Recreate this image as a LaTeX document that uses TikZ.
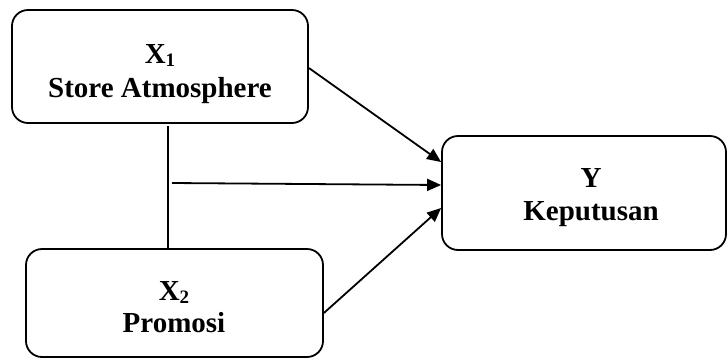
\documentclass[tikz,border=0pt]{standalone}
\usepackage{fontspec}
\setmainfont{Liberation Serif}
\usetikzlibrary{arrows.meta}
\newcommand{\mysub}[1]{\raisebox{-3pt}{\fontsize{19}{19}\selectfont #1}}
\begin{document}
\begin{tikzpicture}[x=1pt,y=-1pt,
  box/.style={draw,line width=1.8pt,rounded corners=16pt,inner sep=0pt},
  lbl/.style={anchor=base,inner sep=0pt,font=\fontsize{29}{34}\selectfont\bfseries},
  conn/.style={line width=1.8pt},
  arr/.style={conn,-{Triangle[length=14pt,width=12pt]}}]
\useasboundingbox (0,0) rectangle (728,360);
\node[box,minimum width=296pt,minimum height=113pt] (x1) at (160,66.5) {};
\node[box,minimum width=297pt,minimum height=108pt] (x2) at (174.5,303) {};
\node[box,minimum width=284pt,minimum height=114pt] (y) at (584,193) {};
\node[lbl] (x1a) at (160,63) {X\mysub{1}};
\node[lbl] (x1b) at (160,97) {Store Atmosphere};
\node[lbl] (x2a) at (174,300) {X\mysub{2}};
\node[lbl] (x2b) at (174,332) {Promosi};
\node[lbl] (ya) at (591,187) {Y};
\node[lbl] (yb) at (591,220) {Keputusan};
\coordinate (vtop) at (168,126);
\coordinate (vbot) at (168,249);
\coordinate (hs) at (172,183);
\draw[conn] (vtop) -- (vbot);
\draw[arr] ([yshift=-1.5pt]x1.east) -- ([yshift=31pt]y.west);
\draw[arr] (hs) -- ([yshift=8pt]y.west);
\draw[arr] ([yshift=-10pt]x2.east) -- ([yshift=-15pt]y.west);
\end{tikzpicture}
\end{document}
